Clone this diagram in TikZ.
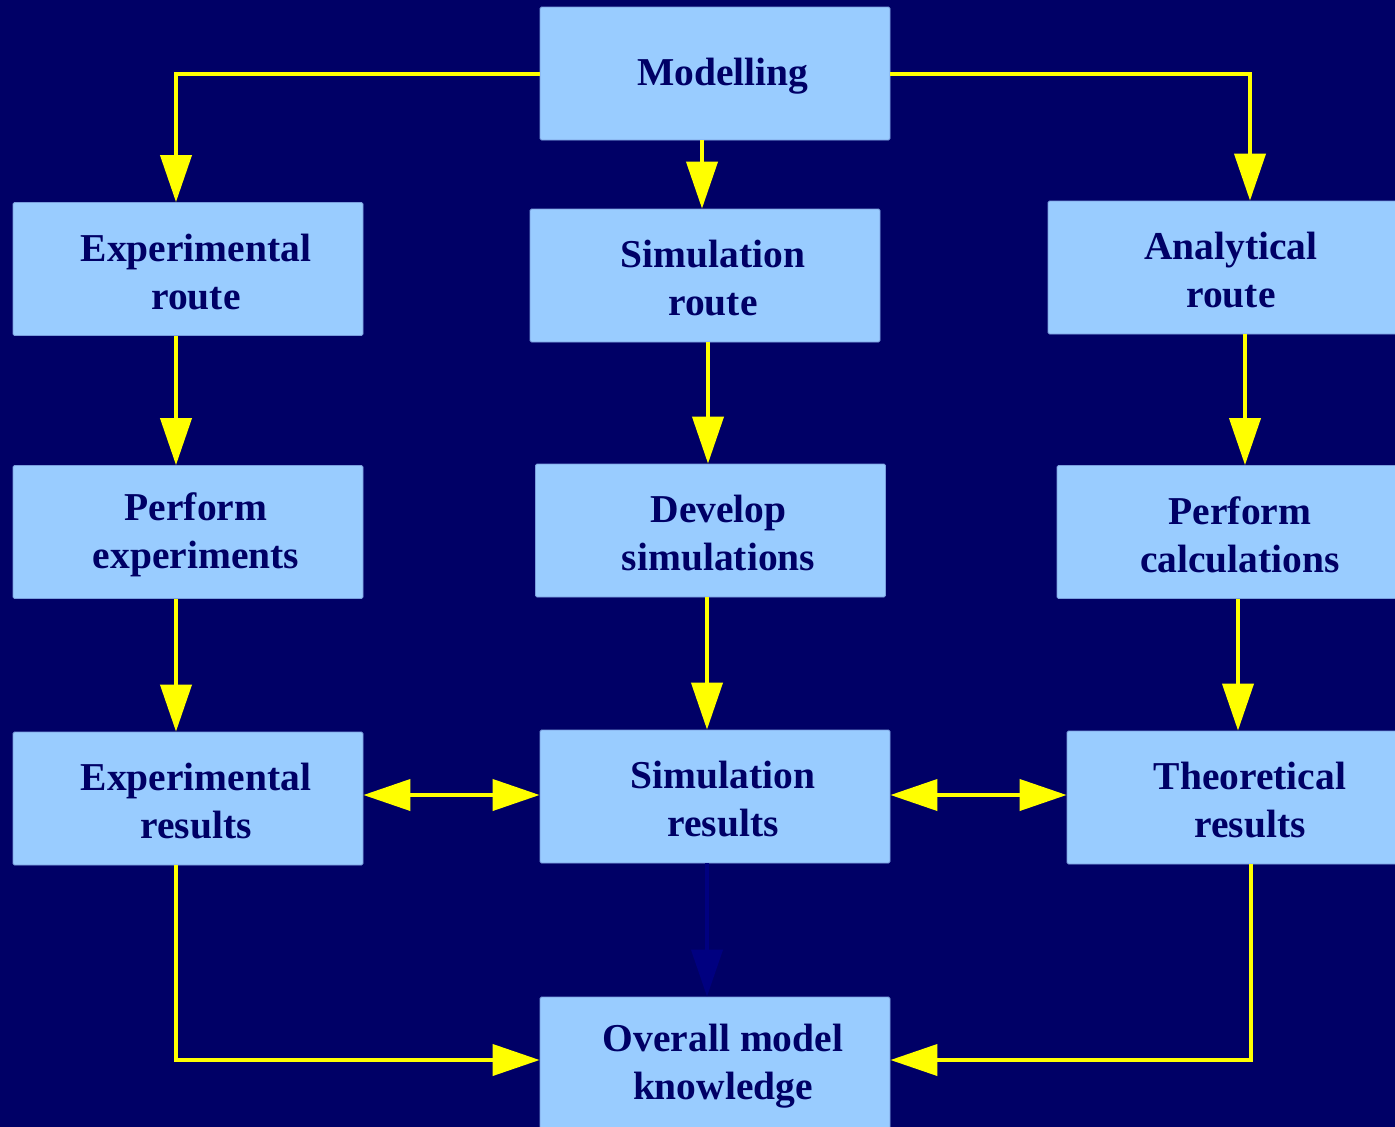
\documentclass[tikz,border=0pt]{standalone}
\usepackage{fontspec}
\setmainfont{Liberation Serif}
\usetikzlibrary{arrows.meta}
\definecolor{bgnavy}{HTML}{000066}
\definecolor{boxblue}{HTML}{99CCFF}
\definecolor{boxedge}{HTML}{7A9EDD}
\definecolor{arrowyel}{HTML}{FFFF00}
\definecolor{faintnavy}{HTML}{000080}

\tikzset{
  stage/.style={rectangle, fill=boxblue, draw=boxedge, line width=0.8pt,
    rounded corners=1.5pt, minimum width=350pt, minimum height=133pt,
    inner sep=0pt},
  caption/.style={xshift=8pt, yshift=-3pt, inner sep=0pt, align=center,
    text=bgnavy, font=\fontsize{39.5}{48}\selectfont\bfseries},
  flow/.style={draw=arrowyel, line width=4pt, -{Triangle[length=47pt,width=31pt]}},
  twoway/.style={flow, {Triangle[length=47pt,width=31pt]}-{Triangle[length=47pt,width=31pt]}},
}

\begin{document}
\begin{tikzpicture}[x=1pt,y=-1pt]
    \useasboundingbox (0,0) rectangle (1395,1127);
    \fill[bgnavy] (0,0) rectangle (1395,1127);

    \node[stage, label={[caption]center:Modelling}] (model) at (715,73.5) {};
    \node[stage, label={[caption]center:Experimental\\route}] (exproute) at (188,269) {};
    \node[stage, label={[caption]center:Simulation\\route}] (simroute) at (705,275.5) {};
    \node[stage, label={[caption]center:Analytical\\route}] (anaroute) at (1223,267.5) {};
    \node[stage, label={[caption]center:Perform\\experiments}] (perfexp) at (188,532) {};
    \node[stage, label={[caption]center:Develop\\simulations}] (devsim) at (710.5,530.5) {};
    \node[stage, label={[caption]center:Perform\\calculations}] (perfcalc) at (1232,532) {};
    \node[stage, label={[caption]center:Experimental\\results}] (expres) at (188,798.5) {};
    \node[stage, label={[caption]center:Simulation\\results}] (simres) at (715,796.5) {};
    \node[stage, label={[caption]center:Theoretical\\results}] (theores) at (1242,797.5) {};
    \node[stage, label={[caption]center:Overall model\\knowledge}] (overall) at (715,1063.5) {};

    % the three routes
    \draw[flow] (model.west) -| ([xshift=-12pt]exproute.north);
    \draw[flow] ([xshift=-13pt]model.south) -- ([xshift=-3pt]simroute.north);
    \draw[flow] (model.east) -| ([xshift=27pt]anaroute.north);

    \draw[flow] ([xshift=-12pt]exproute.south) -- ([xshift=-12pt]perfexp.north);
    \draw[flow] ([xshift=3pt]simroute.south) -- ([xshift=-2.5pt]devsim.north);
    \draw[flow] ([xshift=22pt]anaroute.south) -- ([xshift=13pt]perfcalc.north);

    \draw[flow] ([xshift=-12pt]perfexp.south) -- ([xshift=-12pt]expres.north);
    \draw[flow] ([xshift=-3.5pt]devsim.south) -- ([xshift=-8pt]simres.north);
    \draw[flow] ([xshift=6pt]perfcalc.south) -- ([xshift=-4pt]theores.north);

    % comparing results
    \draw[twoway] ([yshift=3.5pt]expres.east) -- ([yshift=3.5pt]expres.east -| simres.west);
    \draw[twoway] ([yshift=1.5pt]simres.east) -- ([yshift=1.5pt]simres.east -| theores.west);

    % into overall knowledge
    \draw[flow, draw=faintnavy] ([xshift=-8pt]simres.south) -- ([xshift=-8pt]overall.north);
    \draw[flow] ([xshift=-12pt]expres.south) |- ([yshift=3.5pt]overall.west);
    \draw[flow] ([xshift=9pt]theores.south) |- ([yshift=3.5pt]overall.east);
\end{tikzpicture}
\end{document}
